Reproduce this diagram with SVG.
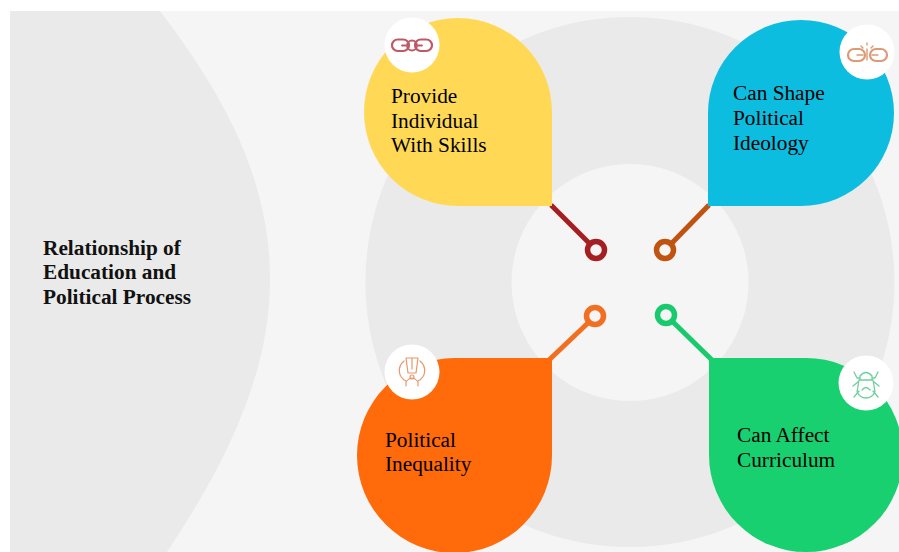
<svg xmlns="http://www.w3.org/2000/svg" width="899" height="552" viewBox="0 0 899 552">
<style>
text{font-family:"Liberation Serif","Times New Roman",serif;font-size:21.3px;fill:#000}
.title{font-weight:bold;fill:#111}
.disc{fill:#fff}
.band{fill:#eaeaea}
.link{fill:none;stroke-width:5}
.dot{fill:#f5f5f5;stroke-width:5.500}
.ic{fill:none;stroke-linecap:round;stroke-linejoin:round}
</style>
<rect width="899" height="552" fill="#fff"/>
<rect x="10" y="11" width="889" height="541" fill="#f5f5f5"/>
<path id="left-band" class="band" d="M10 11H160C220 90 270 175 270 280C270 375 225 465 167 552H10Z"/>
<path id="ring" class="band" fill-rule="evenodd" d="M630 17A264.500 265 0 1 1 629.900 17ZM630 164A118.500 118.500 0 1 0 630.100 164Z"/>
<g id="connectors">
<path class="link" stroke="#a51f22" d="M551 205L590 244"/>
<path class="link" stroke="#c0530f" d="M709 205L671 244"/>
<path class="link" stroke="#f26f21" d="M549 360L589 322"/>
<path class="link" stroke="#18c96e" d="M713 361L672 321"/>
</g>
<g id="node-title"><text class="title" x="43" y="255">Relationship of</text><text class="title" x="43" y="279">Education and</text><text class="title" x="43" y="304">Political Process</text></g>
<g id="node-skills">
<path fill="#ffd955" d="M552 206H458A94 94 0 1 1 552 112Z"/>
<circle class="disc" cx="412" cy="45" r="27.500"/>
<g class="ic" stroke="#bd5a66" stroke-width="2.200">
<rect x="392" y="39.500" width="17" height="11.500" rx="5.700"/>
<rect x="415" y="39.500" width="17" height="11.500" rx="5.700"/>
<path d="M402 45.500H407A5 5 0 0 1 417 45.500H422M407 45.500A5 5 0 0 0 417 45.500" stroke-width="1.800"/>
</g>
<text x="391" y="103">Provide</text><text x="391" y="127.500">Individual</text><text x="391" y="152">With Skills</text>
<circle class="dot" stroke="#a51f22" cx="596" cy="250" r="8.500"/>
</g>
<g id="node-ideology">
<path fill="#0dbde0" d="M708 206V113A93 93 0 1 1 801 206Z"/>
<circle class="disc" cx="867" cy="52" r="27.500"/>
<g class="ic" stroke="#dc9a76" stroke-width="2.200">
<rect x="848" y="49" width="17" height="12" rx="6"/>
<rect x="870" y="49" width="17" height="12" rx="6"/>
<path d="M857 55H863M872 55H878M867 49V60M861 46L863 48M873 46L871 48M867 43V45" stroke-width="1.400"/>
</g>
<text x="733" y="100">Can Shape</text><text x="733" y="125">Political</text><text x="733" y="150">Ideology</text>
<circle class="dot" stroke="#c0530f" cx="665" cy="250" r="8.500"/>
</g>
<g id="node-inequality">
<path fill="#ff6a0a" d="M552 358V455A97.500 97.500 0 1 1 454.500 358Z"/>
<circle class="disc" cx="412" cy="372" r="27.500"/>
<g class="ic" stroke="#e8976b" stroke-width="1.200"><path d="M406 358H418L416 373H408ZM412 358V369M404 361C397 367 398 377 406 381M420 361C427 367 426 377 418 381M406 386V382Q412 374 418 382V386"/><circle cx="412" cy="377" r="2"/></g>
<text x="385" y="447">Political</text><text x="385" y="471">Inequality</text>
<circle class="dot" stroke="#f26f21" cx="595" cy="316" r="8.500"/>
</g>
<g id="node-curriculum">
<path fill="#18d070" d="M709 358H806A97 97 0 1 1 709 455Z"/>
<circle class="disc" cx="866" cy="383" r="27.500"/>
<g class="ic" stroke="#6fcf9f" stroke-width="1.300"><path d="M860 376Q866 369 872 376V380H860ZM859 380H873L875 392Q872 398 866 398Q860 398 857 392ZM862 390Q866 385 870 390M854 372L857 378H860M878 372L875 378H872M853 386L858 382M879 386L874 382M854 397L859 391M878 397L873 391"/></g>
<text x="737" y="442">Can Affect</text><text x="737" y="467">Curriculum</text>
<circle class="dot" stroke="#18c96e" cx="666" cy="315" r="8.500"/>
</g>
</svg>
